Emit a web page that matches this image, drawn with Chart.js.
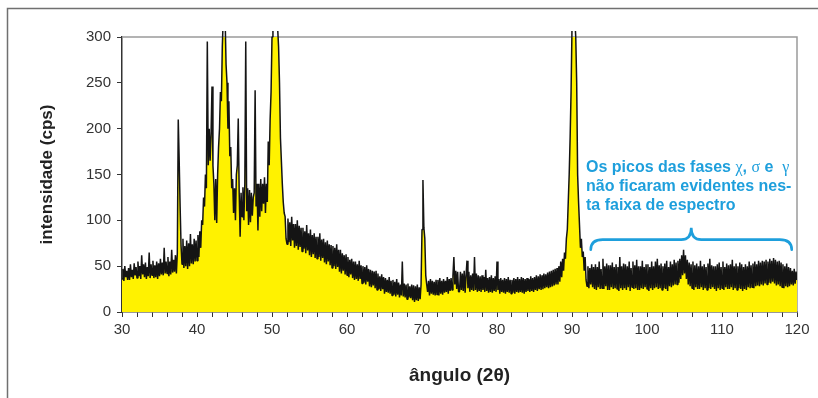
<!DOCTYPE html>
<html><head><meta charset="utf-8">
<script src="https://cdn.jsdelivr.net/npm/chart.js@4.4.1/dist/chart.umd.min.js"></script>
<style>
html,body{margin:0;padding:0;background:#fff;}
canvas{display:block;}
</style></head><body>
<canvas id="c" width="818" height="398"></canvas>
<script>
// ---- data ----
const angleStart = 30;      // first sample, degrees 2θ
const angleStep = 0.125;    // sampling step, degrees (8 samples per degree)
const intensity = [
  36, 47, 34, 50, 38, 45, 35, 48,        // 30
  35, 52, 38, 46, 36, 53, 40, 49,        // 31
  37, 55, 39, 50, 36, 62, 41, 52,        // 32
  38, 54, 36, 49, 39, 65, 37, 52,        // 33
  40, 56, 37, 51, 38, 55, 36, 53,        // 34
  39, 58, 41, 54, 40, 70, 42, 55,        // 35
  42, 60, 39, 55, 41, 68, 43, 57,        // 36
  44, 62, 42, 64, 210, 165, 115, 72,     // 37
  52, 80, 48, 72, 50, 78, 47, 75,        // 38
  50, 85, 53, 74, 52, 80, 55, 78,        // 39
  56, 84, 60, 88, 70, 100, 95, 125,      // 40
  115, 150, 135, 295, 160, 200, 165, 195,// 41
  246, 160, 140, 100, 145, 97, 150, 180, // 42
  200, 240, 230, 290, 320, 330, 320, 270,// 43
  250, 200, 230, 170, 180, 135, 145, 108,// 44
  135, 100, 150, 160, 211, 130, 82, 130, // 45
  104, 136, 100, 140, 295, 110, 135, 95, // 46
  133, 98, 130, 105, 125, 130, 242, 115, // 47
  140, 89, 140, 104, 145, 110, 140, 118, // 48
  147, 108, 140, 120, 186, 160, 210, 240,// 49
  300, 320, 330, 330, 330, 320, 310, 290,// 50
  250, 190, 165, 140, 120, 108, 104, 80, // 51
  74, 102, 76, 98, 72, 104, 78, 96,      // 52
  70, 96, 72, 100, 68, 94, 71, 92,       // 53
  66, 92, 69, 88, 64, 95, 67, 86,        // 54
  62, 90, 60, 84, 63, 86, 59, 82,        // 55
  58, 82, 60, 86, 56, 79, 59, 80,        // 56
  54, 76, 52, 78, 55, 74, 51, 73,        // 57
  48, 72, 50, 70, 47, 74, 49, 68,        // 58
  44, 68, 42, 64, 45, 62, 41, 63,        // 59
  40, 60, 38, 57, 41, 58, 37, 55,        // 60
  35, 55, 36, 52, 34, 56, 36, 51,        // 61
  31, 50, 32, 49, 30, 51, 33, 47,        // 62
  28, 46, 27, 45, 29, 44, 26, 45,        // 63
  24, 42, 25, 39, 23, 41, 25, 38,        // 64
  20, 37, 22, 35, 21, 38, 20, 34,        // 65
  18, 35, 19, 33, 17, 36, 19, 32,        // 66
  16, 30, 18, 55, 17, 31, 16, 30,        // 67
  14, 31, 16, 28, 15, 30, 13, 29,        // 68
  11, 28, 13, 30, 12, 27, 14, 30,        // 69
  90, 144, 92, 80, 40, 30, 22, 34,       // 70
  18, 36, 20, 34, 19, 33, 18, 35,        // 71
  19, 35, 18, 37, 20, 34, 19, 36,        // 72
  21, 34, 22, 38, 20, 36, 23, 37,        // 73
  24, 40, 60, 30, 45, 25, 44, 22,        // 74
  22, 44, 24, 42, 23, 45, 21, 40,        // 75
  56, 26, 44, 22, 40, 24, 42, 23,        // 76
  60, 24, 42, 22, 40, 23, 39, 22,        // 77
  40, 24, 38, 22, 46, 23, 37, 21,        // 78
  38, 22, 40, 21, 37, 23, 39, 22,        // 79
  55, 24, 36, 20, 37, 22, 35, 21,        // 80
  37, 20, 36, 22, 38, 21, 35, 20,        // 81
  35, 21, 37, 20, 36, 22, 38, 21,        // 82
  36, 22, 38, 21, 37, 20, 36, 22,        // 83
  37, 23, 36, 22, 39, 23, 37, 22,        // 84
  38, 24, 40, 23, 39, 25, 41, 24,        // 85
  40, 25, 42, 26, 41, 27, 43, 26,        // 86
  44, 27, 45, 28, 46, 29, 47, 30,        // 87
  48, 30, 50, 33, 55, 38, 58, 45,        // 88
  65, 58, 80, 90, 120, 150, 190, 240,    // 89
  310, 330, 330, 320, 300, 250, 150, 120,// 90
  95, 70, 80, 60, 66, 45, 60, 35,        // 91
  28, 50, 26, 48, 30, 52, 27, 49,        // 92
  25, 52, 24, 49, 27, 55, 25, 47,        // 93
  26, 58, 25, 50, 28, 53, 24, 51,        // 94
  24, 51, 27, 54, 25, 49, 26, 52,        // 95
  25, 49, 23, 60, 26, 50, 24, 53,        // 96
  26, 52, 24, 50, 27, 55, 23, 48,        // 97
  27, 55, 25, 51, 26, 57, 24, 50,        // 98
  24, 50, 26, 56, 25, 49, 27, 52,        // 99
  25, 52, 23, 49, 26, 55, 24, 50,        // 100
  26, 55, 27, 58, 25, 51, 26, 53,        // 101
  24, 50, 26, 53, 25, 56, 23, 49,        // 102
  28, 55, 27, 52, 29, 57, 30, 54,        // 103
  30, 56, 32, 58, 36, 62, 40, 68,        // 104
  42, 62, 36, 57, 30, 54, 28, 52,        // 105
  26, 55, 24, 51, 27, 53, 25, 50,        // 106
  25, 56, 27, 50, 24, 52, 26, 49,        // 107
  24, 53, 26, 58, 25, 51, 27, 50,        // 108
  25, 50, 23, 52, 26, 54, 24, 49,        // 109
  26, 55, 24, 49, 27, 53, 25, 51,        // 110
  25, 52, 27, 57, 24, 50, 26, 53,        // 111
  24, 50, 26, 54, 25, 52, 23, 49,        // 112
  25, 52, 24, 50, 27, 55, 26, 51,        // 113
  27, 53, 26, 55, 28, 52, 29, 56,        // 114
  28, 54, 30, 56, 29, 55, 31, 57,        // 115
  30, 55, 32, 58, 31, 56, 33, 59,        // 116
  31, 57, 29, 55, 30, 56, 28, 54,        // 117
  27, 52, 26, 50, 28, 53, 27, 49,        // 118
  28, 48, 30, 45, 29, 47, 31, 44,        // 119
  35                                     // 120
];
const xTickLabels = [30, 40, 50, 60, 70, 80, 90, 100, 110, 120];
const yTickValues = [0, 50, 100, 150, 200, 250, 300];
const xTitle = 'ângulo (2θ)';
const yTitle = 'intensidade (cps)';
const noteLines = [
  [['Os picos das fases ', 'b'], ['χ', 'g'], [', ', 'b'], ['σ', 'g'], [' e  ', 'b'], ['γ', 'g']],
  [['não ficaram evidentes nes-', 'b']],
  [['ta faixa de espectro', 'b']]
];
const braceFrom = 92.5, braceTo = 119.3; // angular span of the brace

// ---- build points ----
const points = intensity.map((v, i) => ({x: angleStart + i * angleStep, y: v}));

const BLUE = '#1e9fdc';
const decor = {
  id: 'decor',
  beforeDraw(chart) {
    const ctx = chart.ctx;
    ctx.save();
    ctx.fillStyle = '#fff';
    ctx.fillRect(0, 0, chart.width, chart.height);
    ctx.strokeStyle = '#707070';
    ctx.lineWidth = 1.5;
    ctx.beginPath();
    ctx.moveTo(7.5, chart.height);
    ctx.lineTo(7.5, 8.5);
    ctx.lineTo(chart.width, 8.5);
    ctx.stroke();
    ctx.restore();
  },
  beforeDatasetsDraw(chart) {
    const {ctx, chartArea: a} = chart;
    ctx.save();
    ctx.strokeStyle = '#9a9a9a';
    ctx.lineWidth = 1.5;
    ctx.beginPath();
    ctx.moveTo(a.left, a.top);
    ctx.lineTo(a.right, a.top);
    ctx.lineTo(a.right, a.bottom);
    ctx.stroke();
    ctx.restore();
  },
  afterDraw(chart) {
    const {ctx, scales: {x, y}} = chart;
    ctx.save();
    // brace
    const x0 = x.getPixelForValue(braceFrom), x1 = x.getPixelForValue(braceTo);
    const xm = (x0 + x1) / 2;
    const yEnd = y.getPixelForValue(68), yBar = y.getPixelForValue(79), yTip = y.getPixelForValue(92);
    ctx.strokeStyle = BLUE;
    ctx.lineWidth = 2.6;
    ctx.lineCap = 'round';
    ctx.beginPath();
    ctx.moveTo(x0, yEnd);
    ctx.quadraticCurveTo(x0, yBar, x0 + 12, yBar);
    ctx.lineTo(xm - 10, yBar);
    ctx.quadraticCurveTo(xm, yBar, xm, yTip);
    ctx.quadraticCurveTo(xm, yBar, xm + 10, yBar);
    ctx.lineTo(x1 - 12, yBar);
    ctx.quadraticCurveTo(x1, yBar, x1, yEnd);
    ctx.stroke();
    // text
    const tx = x.getPixelForValue(91.87);
    const baselines = [171.5, 190.5, 209.5];
    ctx.fillStyle = BLUE;
    ctx.textBaseline = 'alphabetic';
    noteLines.forEach((runs, li) => {
      let cx = tx;
      runs.forEach(([t, f]) => {
        ctx.font = f === 'b' ? 'bold 16px "Liberation Sans", Arial, sans-serif' : '16px "Liberation Serif", "DejaVu Serif", serif';
        ctx.fillText(t, cx, baselines[li]);
        cx += ctx.measureText(t).width;
      });
    });
    ctx.restore();
  }
};

new Chart(document.getElementById('c'), {
  type: 'line',
  data: {
    datasets: [{
      data: points,
      borderColor: '#141414',
      borderWidth: 1.5,
      borderJoinStyle: 'bevel',
      backgroundColor: '#fff200',
      fill: 'origin',
      pointRadius: 0,
      tension: 0,
      clip: {left: 0, top: 6, right: 0, bottom: 0}
    }]
  },
  options: {
    responsive: false,
    animation: false,
    layout: {padding: {left: 0, top: 37, right: 21, bottom: 0}},
    plugins: {legend: {display: false}, tooltip: {enabled: false}},
    scales: {
      x: {
        type: 'linear', min: 30, max: 120,
        ticks: {
          stepSize: 2, autoSkip: false, maxRotation: 0, minRotation: 0,
          callback: v => xTickLabels.includes(v) ? String(v) : '',
          font: {family: '"Liberation Sans", Arial, sans-serif', size: 15},
          color: '#333', padding: 4
        },
        grid: {drawOnChartArea: false, drawTicks: true, tickLength: 5, tickColor: '#333', tickWidth: 1},
        border: {display: true, color: '#333', width: 1.5},
        title: {display: true, text: xTitle, color: '#222',
          font: {family: '"Liberation Sans", Arial, sans-serif', size: 19, weight: 'bold'},
          padding: {top: 0, bottom: 11}},
        afterFit(s) { s.height = 86; }
      },
      y: {
        min: 0, max: 300,
        afterBuildTicks(s) { s.ticks = yTickValues.map(v => ({value: v})); },
        ticks: {
          font: {family: '"Liberation Sans", Arial, sans-serif', size: 15},
          color: '#333', padding: 6
        },
        grid: {drawOnChartArea: false, drawTicks: true, tickLength: 5, tickColor: '#333', tickWidth: 1},
        border: {display: true, color: '#333', width: 1.5},
        title: {display: true, text: yTitle, color: '#222',
          font: {family: '"Liberation Sans", Arial, sans-serif', size: 17, weight: 'bold'},
          padding: {top: 37, bottom: 0}},
        afterFit(s) { s.width = 122; }
      }
    }
  },
  plugins: [decor]
});
</script>
</body></html>
